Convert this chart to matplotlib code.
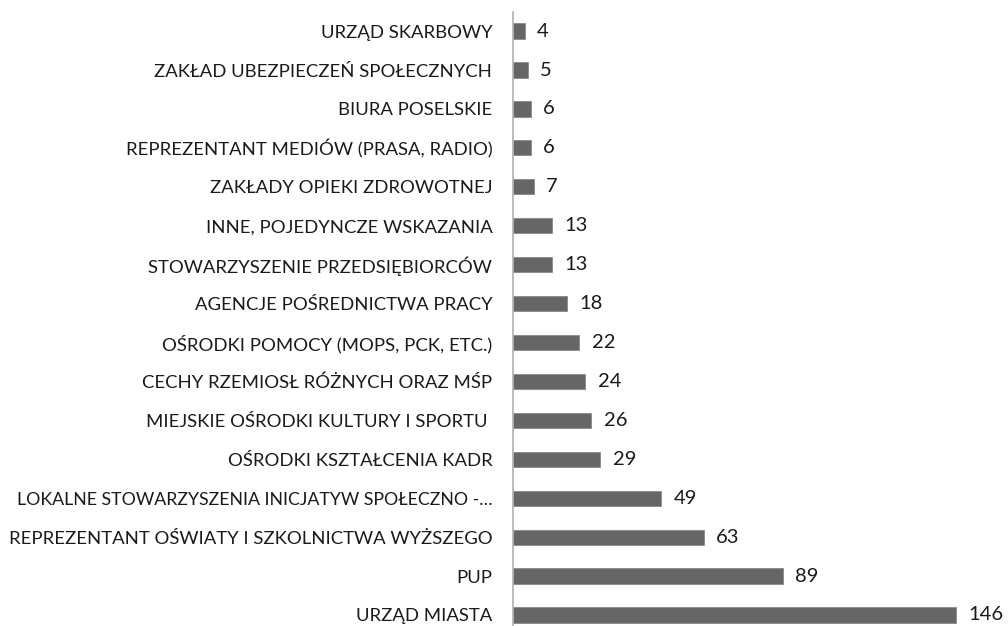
import matplotlib
matplotlib.use("Agg")
import matplotlib.pyplot as plt

categories = [
    "URZĄD MIASTA",
    "PUP",
    "REPREZENTANT OŚWIATY I SZKOLNICTWA WYŻSZEGO",
    "LOKALNE STOWARZYSZENIA INICJATYW SPOŁECZNO -…",
    "OŚRODKI KSZTAŁCENIA KADR",
    "MIEJSKIE OŚRODKI KULTURY I SPORTU ",
    "CECHY RZEMIOSŁ RÓŻNYCH ORAZ MŚP",
    "OŚRODKI POMOCY (MOPS, PCK, ETC.)",
    "AGENCJE POŚREDNICTWA PRACY",
    "STOWARZYSZENIE PRZEDSIĘBIORCÓW",
    "INNE, POJEDYNCZE WSKAZANIA",
    "ZAKŁADY OPIEKI ZDROWOTNEJ",
    "REPREZENTANT MEDIÓW (PRASA, RADIO)",
    "BIURA POSELSKIE",
    "ZAKŁAD UBEZPIECZEŃ SPOŁECZNYCH",
    "URZĄD SKARBOWY",
]
values = [146, 89, 63, 49, 29, 26, 24, 22, 18, 13, 13, 7, 6, 6, 5, 4]

plt.rcParams['font.family'] = ['Lato', 'DejaVu Sans']

W, H = 1008, 626
fig = plt.figure(figsize=(W / 100, H / 100), dpi=100)
ax_left = 512.5 / W
ax_top = 1 - 12 / H
ax = fig.add_axes([ax_left, 0, 1 - ax_left, ax_top])

y = list(range(len(categories)))
ax.barh(y, values, height=0.39, color="#666666", edgecolor="#8a8a8a", linewidth=0.6)

ax.set_ylim(-0.283, 15.49)
ax.set_xlim(0, 163.3)
ax.set_yticks(y)
ax.set_yticklabels(categories, fontsize=13.3, color="#1a1a1a")
ax.tick_params(axis="y", length=0, pad=14.5)
ax.set_xticks([])
for lbl in ax.get_yticklabels():
    if lbl.get_text().startswith("LOKALNE"):
        lbl.set_fontsize(12.8)

for s in ["top", "right", "bottom"]:
    ax.spines[s].set_visible(False)
ax.spines["left"].set_color("#b0b0b0")
ax.spines["left"].set_linewidth(1.2)

for yi, v in zip(y, values):
    ax.annotate(str(v), xy=(v, yi), xytext=(9, 0), textcoords="offset points",
                ha="left", va="center", fontsize=14.5, color="#1a1a1a")

fig.savefig("out.png", dpi=100)
